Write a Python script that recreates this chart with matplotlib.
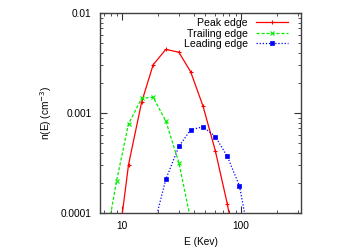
import matplotlib
matplotlib.use("Agg")
import matplotlib.pyplot as plt
from matplotlib.ticker import LogLocator, FixedLocator, FixedFormatter, NullFormatter

plt.rcParams['font.family'] = ['Liberation Sans', 'DejaVu Sans']

# Energy grid (keV)
x_peak = [8.96, 11.3, 14.56, 18.2, 23.3, 30.0, 37.7, 47.9, 60.8, 76.7, 97.0]
y_peak = [3.5e-5, 3.04e-4, 1.28e-3, 3.03e-3, 4.33e-3, 4.05e-3, 2.58e-3, 1.17e-3, 4.19e-4, 1.23e-4, 2.8e-5]

x_trail = [7.0, 8.96, 11.3, 14.56, 18.2, 23.3, 30.0, 37.7]
y_trail = [4.0e-5, 2.09e-4, 7.8e-4, 1.40e-3, 1.44e-3, 8.29e-4, 3.18e-4, 8.6e-5]

x_lead = [18.2, 23.3, 30.0, 37.7, 47.9, 60.8, 76.7, 97.0, 123.0]
y_lead = [6.9e-5, 2.18e-4, 4.63e-4, 6.79e-4, 7.28e-4, 5.82e-4, 3.68e-4, 1.87e-4, 4.2e-5]

labels = ["Peak edge", "Trailing edge", "Leading edge"]
yticks = [1e-4, 1e-3, 1e-2]
yticklabels = ["0.0001", "0.001", "0.01"]
xticks = [10, 100]
xticklabels = ["10", "100"]

FS = 7.3

fig = plt.figure(figsize=(3.54, 2.48), dpi=100)
ax = fig.add_axes([100/354, 35/248, 201/354, 200/248])

ax.plot(x_peak, y_peak, color='#ff0000', lw=0.9, ls='-', marker='+', ms=3.5, mew=0.8, label=labels[0])
ax.plot(x_trail, y_trail, color='#00ee00', lw=0.9, ls=(0, (2.5, 1.5)), marker='x', ms=3.0, mew=0.8, label=labels[1])
ax.plot(x_lead, y_lead, color='#0000ff', lw=0.9, ls=(0, (1, 1.5)), marker='s', ms=2.4, mew=0.5, label=labels[2])

ax.set_xscale('log')
ax.set_yscale('log')
ax.set_xlim(6.5, 320)
ax.set_ylim(1e-4, 1e-2)

ax.xaxis.set_major_locator(FixedLocator(xticks))
ax.xaxis.set_major_formatter(FixedFormatter(xticklabels))
ax.xaxis.set_minor_locator(LogLocator(base=10, subs=range(2, 10)))
ax.xaxis.set_minor_formatter(NullFormatter())
ax.yaxis.set_major_locator(FixedLocator(yticks))
ax.yaxis.set_major_formatter(FixedFormatter(yticklabels))
ax.yaxis.set_minor_locator(LogLocator(base=10, subs=range(2, 10)))
ax.yaxis.set_minor_formatter(NullFormatter())

ax.tick_params(which='both', direction='in', top=True, right=True, labelsize=FS, color='#333333')
ax.tick_params(which='major', length=5, width=0.8)
ax.tick_params(axis='y', which='major', pad=6)
ax.tick_params(axis='x', which='major', pad=6)
ax.tick_params(which='minor', length=2.5, width=0.6)
for s in ax.spines.values():
    s.set_color('#404040')
    s.set_linewidth(1.0)

ax.set_xlabel("E (Kev)", fontsize=FS, labelpad=4)
ax.set_ylabel("n(E) (cm$^{-3}$)", fontsize=FS, labelpad=5)

ax.legend(loc='upper right', frameon=False, fontsize=7.6, markerfirst=False,
          handlelength=3.0, handletextpad=0.8, labelspacing=0.05,
          borderpad=0, borderaxespad=0,
          bbox_to_anchor=((288 - 100) / 201, 0.975))

fig.savefig("out.png", dpi=100)
